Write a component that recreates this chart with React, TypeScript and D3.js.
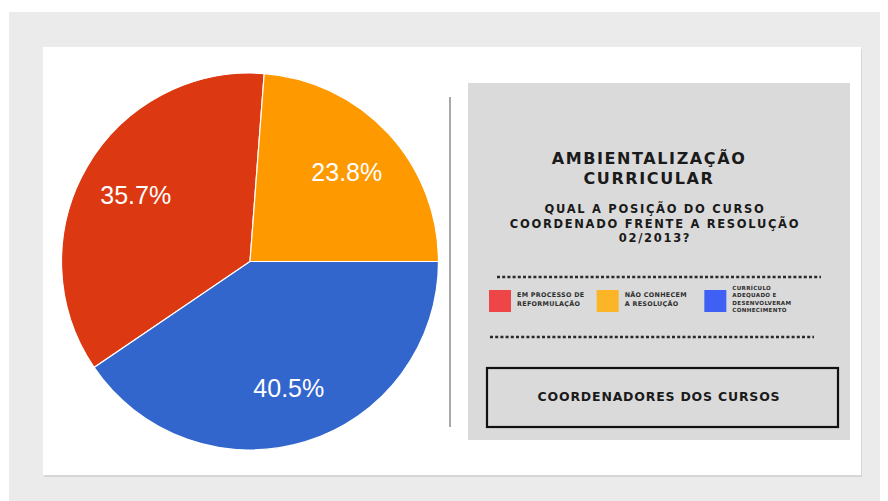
import React from 'react';
import * as d3 from 'd3';

// legend order (as in the right panel)
const categories = [
    "EM PROCESSO DE REFORMULAÇÃO",
    "NÃO CONHECEM A RESOLUÇÃO",
    "CURRÍCULO ADEQUADO E DESENVOLVERAM CONHECIMENTO",
];
const shares = [35.7, 23.8, 40.5];
const sliceColors = ["#dc3912", "#ff9900", "#3366cc"];
const legendColors = ["#ee4646", "#fcb526", "#3f5ff5"];
const legendLines = [
    ["EM PROCESSO DE", "REFORMULAÇÃO"],
    ["NÃO CONHECEM", "A RESOLUÇÃO"],
    ["CURRÍCULO", "ADEQUADO E", "DESENVOLVERAM", "CONHECIMENTO"],
];

const titleLines = ["AMBIENTALIZAÇÃO", "CURRICULAR"];
const questionLines = ["QUAL A POSIÇÃO DO CURSO", "COORDENADO FRENTE A RESOLUÇÃO", "02/2013?"];
const footerText = "COORDENADORES DOS CURSOS";

const W = 888;
const H = 501;

const App = () => {
    const cx = 250, cy = 261.5, r = 188.5;
    const total = d3.sum(shares);

    // the orange slice ends at 3 o'clock, like the original chart
    const start = Math.PI / 2 - (shares[0] + shares[1]) / total * 2 * Math.PI;
    const pie = d3.pie<number>().sort(null).startAngle(start).endAngle(start + 2 * Math.PI);
    const arcs = pie(shares);
    const arc = d3.arc<d3.PieArcDatum<number>>().innerRadius(0).outerRadius(r);
    const labelArc = d3.arc<d3.PieArcDatum<number>>().innerRadius(132).outerRadius(132);

    const legendX = d3.scaleBand<string>().domain(categories).range([489, 812]);
    const geo = "'DejaVu Sans', 'Noto Sans', sans-serif";
    const panelCx = 655;

    return (
        <svg width={W} height={H} style={{position: "absolute", left: 0, top: 0}}>
            <rect x={0} y={0} width={W} height={H} fill="#ffffff"/>
            <rect x={9} y={12} width={871} height={H} fill="#ebebeb"/>
            <rect x={44} y={49} width={818} height={428} fill="#d6d6d6"/>
            <rect x={43} y={47} width={818} height={428} fill="#ffffff"/>

            {/* pie */}
            <g transform={`translate(${cx},${cy})`}>
                {arcs.map((d, i) => (
                    <path key={i} d={arc(d) || ""} fill={sliceColors[i]} stroke="#ffffff" strokeWidth={1.2}/>
                ))}
                {arcs.map((d, i) => {
                    const [lx, ly] = labelArc.centroid(d);
                    return (
                        <text key={i} x={lx} y={ly} dy="0.36em" textAnchor="middle"
                              fontFamily="'Liberation Sans', Arial, sans-serif" fontSize={25}
                              fill="#ffffff">
                            {d3.format(".1f")(shares[i]) + "%"}
                        </text>
                    );
                })}
            </g>

            <line x1={450} x2={450} y1={97} y2={427} stroke="#8c8c8c" strokeWidth={1.5}/>

            {/* info panel */}
            <rect x={468} y={83} width={382} height={357} fill="#dadada"/>
            {titleLines.map((t, i) => (
                <text key={t} x={panelCx - 6} y={164 + i * 19.5} textAnchor="middle" fontFamily={geo}
                      fontWeight="bold" fontSize={16} letterSpacing={1.6} fill="#1a1a1a">{t}</text>
            ))}
            {questionLines.map((t, i) => (
                <text key={t} x={panelCx} y={213 + i * 14.5} textAnchor="middle" fontFamily={geo}
                      fontWeight="bold" fontSize={11.5} letterSpacing={1.7} fill="#1a1a1a">{t}</text>
            ))}

            <line x1={497} x2={821} y1={277} y2={277} stroke="#2a2a2a" strokeWidth={2.6} strokeDasharray="3 2.2"/>
            <line x1={490} x2={814} y1={337} y2={337} stroke="#2a2a2a" strokeWidth={2.6} strokeDasharray="3 2.2"/>

            {categories.map((c, i) => {
                const x = legendX(c) || 0;
                const lines = legendLines[i];
                const step = lines.length > 2 ? 7.3 : 9;
                const y0 = lines.length > 2 ? 290 : 297;
                return (
                    <g key={c}>
                        <rect x={x} y={290} width={22} height={22} fill={legendColors[i]}/>
                        {lines.map((l, j) => (
                            <text key={j} x={x + 28} y={y0 + j * step} fontFamily={geo} fontWeight="bold"
                                  fontSize={lines.length > 2 ? 5.6 : 6.4} letterSpacing={0.3} fill="#2e2e2e">{l}</text>
                        ))}
                    </g>
                );
            })}

            <rect x={487} y={368} width={351} height={59} fill="none" stroke="#111111" strokeWidth={2.2}/>
            <text x={659} y={401} textAnchor="middle" fontFamily={geo} fontWeight="bold" fontSize={12.5}
                  letterSpacing={0.8} fill="#1a1a1a">{footerText}</text>
        </svg>
    );
};

export default App;
